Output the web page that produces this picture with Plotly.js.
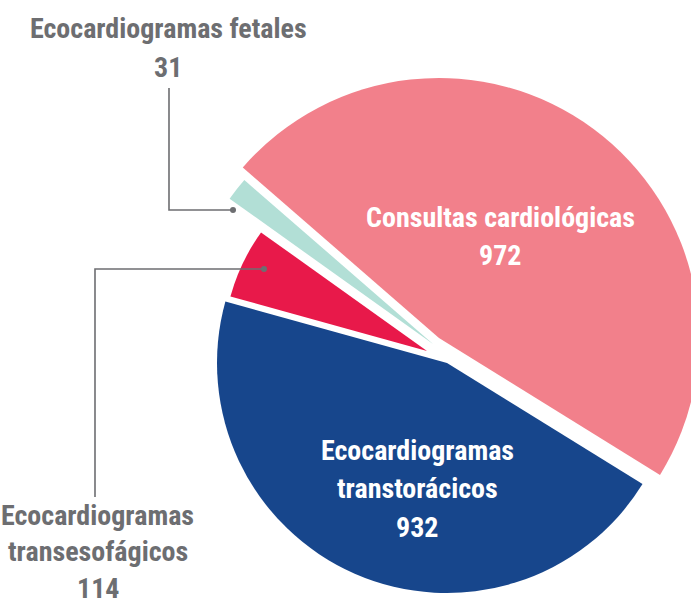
<!DOCTYPE html>
<html>
<head>
<meta charset="utf-8">
<script src="https://cdn.plot.ly/plotly-3.0.1.min.js"></script>
<style>
  html, body { margin: 0; padding: 0; overflow: hidden; background: #ffffff; }
  #chart { width: 720px; height: 610px; }
</style>
</head>
<body>
<div id="chart"></div>
<script>
// ---- Data ----
const labels = ['Consultas cardiológicas', 'Ecocardiogramas transtorácicos', 'Ecocardiogramas transesofágicos', 'Ecocardiogramas fetales'];
const values = [972, 932, 114, 31];
const labelLines = [
  ['Consultas cardiológicas'],
  ['Ecocardiogramas', 'transtorácicos'],
  ['Ecocardiogramas', 'transesofágicos'],
  ['Ecocardiogramas fetales']
];
const colors = ['#F2808B', '#17468C', '#E8194A', '#B2DFD6'];

// ---- Layout / styling (pixels) ----
const W = 720, H = 610;
const GREY = '#6D6E71';
const FONT = '"Liberation Sans Narrow", "Roboto Condensed", "Arial Narrow", Roboto, "DejaVu Sans Condensed", sans-serif';
const sliceCenters = [[439, 338], [447, 363], [427, 351], [433, 344]];
const sliceRadii = [260, 230, 204, 250];
// [x, first line y, colour, line pitch]
const labelAnchors = [[500, 217, '#ffffff', 38.5], [417, 450, '#ffffff', 38.5], [98, 515, GREY, 36.5], [168, 29, GREY, 38.5]];

const px = x => x / W;
const py = y => 1 - y / H;

const traces = values.map((_, k) => {
  const [cx, cy] = sliceCenters[k];
  const r = sliceRadii[k];
  return {
    type: 'pie',
    labels: labels,
    values: values,
    sort: false,
    direction: 'clockwise',
    rotation: -49,
    marker: {
      colors: colors.map((c, i) => i === k ? c : 'rgba(0,0,0,0)'),
      line: { width: 0 }
    },
    textinfo: 'none',
    hoverinfo: 'label+value',
    showlegend: false,
    domain: { x: [(cx - r) / W, (cx + r) / W], y: [1 - (cy + r) / H, 1 - (cy - r) / H] }
  };
});

const annotations = [];
labels.forEach((lab, i) => {
  const lines = labelLines[i].concat([String(values[i])]);
  const [x0, y0, col, pitch] = labelAnchors[i];
  lines.forEach((t, j) => {
    annotations.push({
      xref: 'paper', yref: 'paper',
      x: px(x0), y: py(y0 + j * pitch),
      xanchor: 'center', yanchor: 'middle',
      text: t, showarrow: false,
      font: { family: FONT, size: 28, color: col, weight: 'bold' }
    });
  });
});

function pathFrom(pts) {
  return pts.map((p, i) => (i ? 'L ' : 'M ') + px(p[0]).toFixed(5) + ' ' + py(p[1]).toFixed(5)).join(' ');
}
function dot(x, y, r) {
  return { type: 'circle', xref: 'paper', yref: 'paper',
    x0: px(x - r), x1: px(x + r), y0: py(y + r), y1: py(y - r),
    fillcolor: GREY, line: { width: 0 } };
}
const shapes = [
  { type: 'path', xref: 'paper', yref: 'paper', path: pathFrom([[169, 88], [169, 210], [233, 210]]), line: { color: GREY, width: 1.6 } },
  { type: 'path', xref: 'paper', yref: 'paper', path: pathFrom([[95, 497], [95, 269], [264, 269]]), line: { color: GREY, width: 1.6 } },
  dot(233, 210, 3),
  dot(264, 269, 3)
];

const layout = {
  width: W, height: H,
  margin: { l: 0, r: 0, t: 0, b: 0 },
  paper_bgcolor: '#ffffff',
  plot_bgcolor: '#ffffff',
  showlegend: false,
  annotations: annotations,
  shapes: shapes
};

Plotly.newPlot('chart', traces, layout, { displayModeBar: false, staticPlot: true });
</script>
</body>
</html>
